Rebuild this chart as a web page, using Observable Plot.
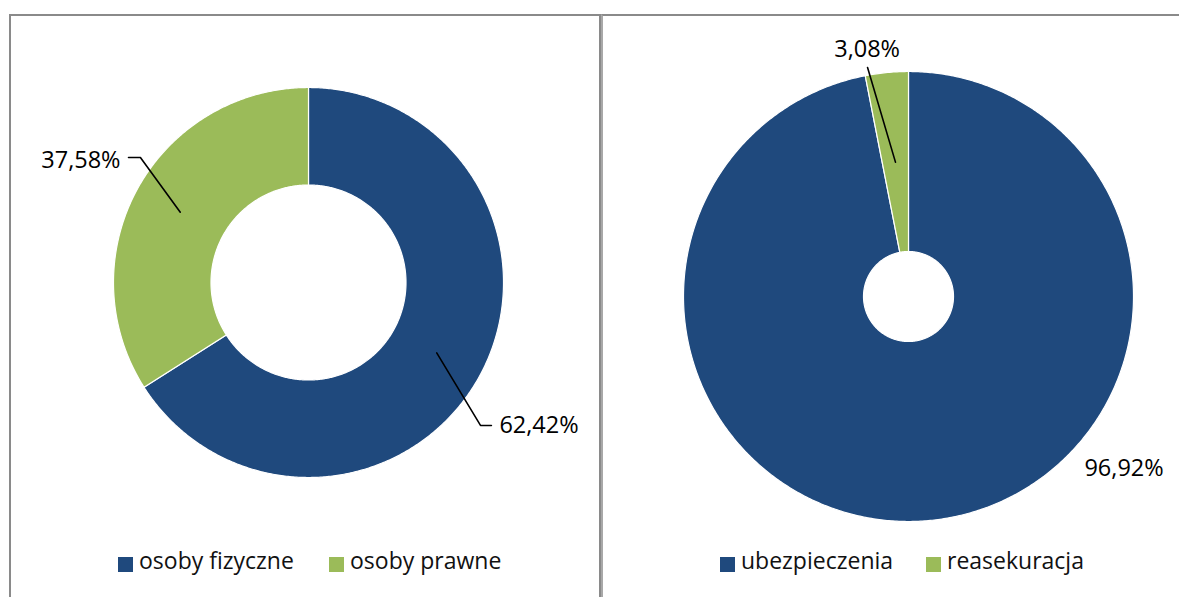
<!DOCTYPE html>
<html>
<head>
<meta charset="utf-8">
<script src="https://cdn.jsdelivr.net/npm/d3@7"></script>
<script src="https://cdn.jsdelivr.net/npm/@observablehq/plot@0.6"></script>
<style>
  html, body { margin: 0; padding: 0; background: #fff; }
  body { width: 1179px; height: 597px; position: relative; overflow: hidden; font-family: "Open Sans", sans-serif; }
  .panel { position: absolute; top: 14px; height: 600px; box-sizing: border-box; border-top: 2px solid #8a8a8a; }
  #pl { left: 9px; width: 592px; border-left: 2px solid #8a8a8a; border-right: 2px solid #8a8a8a; }
  #pr { left: 601px; width: 600px; border-left: 2px solid #a8a8a8; }
  .chart { position: absolute; top: 0; }
  .legend { position: absolute; top: 548px; height: 32px; font-size: 23px; color: #111; }
  .item { position: absolute; top: 0; white-space: nowrap; }
  .sw { position: absolute; width: 15px; height: 15px; top: 9px; }
  .lt { position: absolute; top: -4px; }
</style>
</head>
<body>
<div class="panel" id="pl"></div>
<div class="panel" id="pr"></div>
<div id="cl" class="chart" style="left:0px"></div>
<div id="cr" class="chart" style="left:600px"></div>
<div id="legL" class="legend"></div>
<div id="legR" class="legend"></div>
<script>
// ---- data ----
const leftNames = ["osoby fizyczne", "osoby prawne"];
const leftShares = [65.97, 34.03];          // slice sizes as drawn in the picture
const leftLabels = ["62,42%", "37,58%"];
const rightNames = ["ubezpieczenia", "reasekuracja"];
const rightShares = [96.92, 3.08];
const rightLabels = ["96,92%", "3,08%"];
const colors = ["#1F497D", "#9BBB59"];

// label placement (unit-circle coordinates, x right / y up)
const leftLabelX = [0.979, -0.964];
const leftLabelY = [-0.733, 0.626];
const leftAnchor = ["start", "end"];
const leftElbowX = [0.882, -0.862];
const leftElbowY = [-0.733, 0.641];
const leftEndX = [0.938, -0.923];
const rightLabelX = [0.958, -0.184];
const rightLabelY = [-0.764, 1.10];
const rightAnchor = ["middle", "middle"];
const rightLeader = [false, true];
const rightEndX = [null, -0.182];
const rightEndY = [null, 1.018];

const FONT = "Open Sans";

function slices(names, shares, inner) {
  const total = d3.sum(shares);
  let acc = 0;
  const pts = [];
  const info = [];
  names.forEach((n, i) => {
    const a0 = acc / total * 2 * Math.PI;
    acc += shares[i];
    const a1 = acc / total * 2 * Math.PI;
    const steps = Math.max(4, Math.ceil((a1 - a0) / (Math.PI / 360)));
    for (let k = 0; k <= steps; k++) {
      const a = a0 + (a1 - a0) * k / steps;
      pts.push({name: n, x: Math.sin(a), y: Math.cos(a)});
    }
    for (let k = steps; k >= 0; k--) {
      const a = a0 + (a1 - a0) * k / steps;
      pts.push({name: n, x: inner * Math.sin(a), y: inner * Math.cos(a)});
    }
    info.push({name: n, mid: (a0 + a1) / 2});
  });
  return {pts, info};
}

function donut({names, shares, inner, cx, cy, R, width, height, leaders, texts}) {
  const {pts, info} = slices(names, shares, inner);
  const rm = (1 + inner) / 2;
  const leaderPts = [];
  leaders.forEach((L, i) => {
    if (!L) return;
    const m = info[i].mid;
    leaderPts.push({id: i, x: rm * Math.sin(m), y: rm * Math.cos(m)});
    L.forEach(p => leaderPts.push({id: i, x: p[0], y: p[1]}));
  });
  const textMarks = ["start", "middle", "end"].map(a =>
    Plot.text(texts.filter(d => d.a === a), {x: "x", y: "y", text: "t", textAnchor: a, fontSize: 23.5, fontFamily: FONT, fill: "#000", lineAnchor: "middle"})
  );
  return Plot.plot({
    width, height,
    style: {background: "transparent", overflow: "visible"},
    x: {domain: [-1, 1], range: [cx - R, cx + R], axis: null},
    y: {domain: [-1, 1], range: [cy + R, cy - R], axis: null},
    color: {domain: names, range: colors},
    marks: [
      Plot.line(pts, {x: "x", y: "y", z: "name", fill: "name", stroke: "#ffffff", strokeWidth: 1.2, curve: "linear-closed"}),
      Plot.line(leaderPts, {x: "x", y: "y", z: "id", stroke: "#000", strokeWidth: 1.6}),
      ...textMarks
    ]
  });
}

const leftTexts = leftLabels.map((t, i) => ({t, x: leftLabelX[i], y: leftLabelY[i], a: leftAnchor[i]}));
const leftLeaders = leftLabels.map((t, i) => [[leftElbowX[i], leftElbowY[i]], [leftEndX[i], leftElbowY[i]]]);
document.getElementById("cl").append(donut({
  names: leftNames, shares: leftShares, inner: 0.5,
  cx: 308, cy: 282, R: 195, width: 600, height: 540,
  leaders: leftLeaders, texts: leftTexts
}));

const rightTexts = rightLabels.map((t, i) => ({t, x: rightLabelX[i], y: rightLabelY[i], a: rightAnchor[i]}));
const rightLeaders = rightLabels.map((t, i) => rightLeader[i] ? [[rightEndX[i], rightEndY[i]]] : null);
document.getElementById("cr").append(donut({
  names: rightNames, shares: rightShares, inner: 0.2,
  cx: 308, cy: 296, R: 225, width: 579, height: 540,
  leaders: rightLeaders, texts: rightTexts
}));

function legend(id, names, pos) {
  const el = document.getElementById(id);
  names.forEach((n, i) => {
    const it = document.createElement("div");
    it.className = "item";
    it.style.left = pos[i] + "px";
    it.innerHTML = `<div class="sw" style="background:${colors[i]}"></div><div class="lt" style="left:21px">${n}</div>`;
    el.append(it);
  });
}
legend("legL", leftNames, [118, 329]);
legend("legR", rightNames, [720, 926]);
</script>
</body>
</html>
